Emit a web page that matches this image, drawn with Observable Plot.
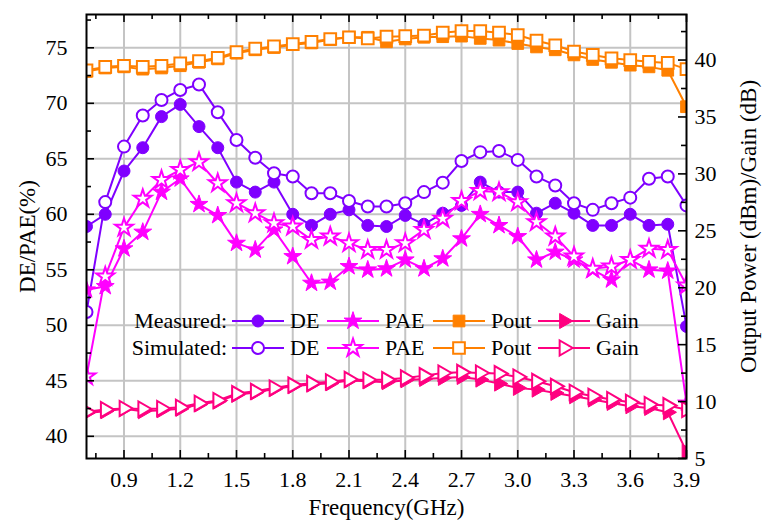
<!DOCTYPE html>
<html><head><meta charset="utf-8">
<script src="https://cdn.jsdelivr.net/npm/d3@7"></script>
<script src="https://cdn.jsdelivr.net/npm/@observablehq/plot@0.6"></script>
<style>
body{margin:0;background:#fff;}
#chart{width:764px;height:522px;}
</style></head><body><div id="chart"></div>
<script>
// Frequency (GHz)
const freq = [0.7,0.8,0.9,1.0,1.1,1.2,1.3,1.4,1.5,1.6,1.7,1.8,1.9,2.0,2.1,2.2,2.3,2.4,2.5,2.6,2.7,2.8,2.9,3.0,3.1,3.2,3.3,3.4,3.5,3.6,3.7,3.8,3.9];
// DE / PAE (%) — left axis
const deMeas  = [58.9,60.0,63.9,66.0,68.8,69.9,67.9,66.0,62.9,62.0,62.9,60.0,59.0,60.0,60.4,59.0,58.9,59.9,59.1,60.1,60.8,62.9,62.0,62.0,60.1,61.0,60.1,59.0,59.0,60.0,59.0,59.1,49.9];
const deSim   = [51.2,61.1,66.1,68.9,70.3,71.2,71.7,69.2,66.7,65.1,63.7,63.4,61.9,61.9,61.2,60.7,60.7,61.0,62.0,62.85,64.8,65.6,65.7,64.9,63.4,62.6,61.0,60.4,61.0,61.5,63.2,63.4,60.8];
const paeMeas = [53.2,53.5,56.9,58.4,62.0,63.2,60.9,59.9,57.4,56.8,58.6,56.2,53.8,53.9,55.3,55.0,55.1,55.9,55.1,56.0,57.8,60.0,59.0,58.0,55.9,56.6,55.9,55.0,54.1,55.9,55.0,54.9,43.0];
const paeSim  = [45.4,54.4,58.8,61.4,63.1,64.0,64.7,62.8,61.0,60.1,59.2,58.9,57.7,58.0,57.4,56.8,56.8,57.4,58.6,59.6,61.2,62.1,62.0,61.1,59.3,58.0,56.2,55.1,55.3,55.9,56.9,56.8,53.6];
// Output power (dBm) / Gain (dB) — right axis
const poutMeas = [39.0,39.3,39.4,39.2,39.3,39.5,39.8,40.1,40.6,40.9,41.1,41.35,41.5,41.8,42.0,42.0,41.6,41.85,42.0,42.05,42.1,41.9,41.75,41.45,41.15,40.9,40.45,40.05,39.8,39.55,39.4,39.1,35.9];
const poutSim  = [39.1,39.4,39.5,39.4,39.5,39.7,39.9,40.2,40.7,41.0,41.2,41.4,41.6,41.85,42.0,41.9,42.05,42.1,42.15,42.4,42.55,42.55,42.4,42.2,41.7,41.3,40.75,40.45,40.15,40.0,39.85,39.75,39.2];
const gainMeas = [9.0,9.15,9.36,9.15,9.24,9.36,9.74,10.0,10.6,10.8,11.1,11.35,11.5,11.6,11.86,11.78,11.7,11.87,11.99,12.08,12.16,11.93,11.58,11.2,11.05,10.76,10.47,10.18,9.88,9.59,9.44,9.06,5.6];
const gainSim  = [9.1,9.3,9.4,9.35,9.4,9.5,9.85,10.1,10.7,10.9,11.2,11.45,11.6,11.75,11.95,11.9,11.93,12.08,12.28,12.51,12.57,12.51,12.46,12.16,11.78,11.34,10.82,10.47,10.18,9.94,9.74,9.65,9.3];

// Axis ticks
const xLabels = [0.9,1.2,1.5,1.8,2.1,2.4,2.7,3.0,3.3,3.6,3.9];
const xGrid = [0.9,1.2,1.5,1.8,2.1,2.4,2.7,3.0,3.3,3.6];
const xMinor = [0.75,1.05,1.35,1.65,1.95,2.25,2.55,2.85,3.15,3.45,3.75];
const leftMajor = [40,45,50,55,60,65,70,75];
const leftMinor = [42.5,47.5,52.5,57.5,62.5,67.5,72.5,77.5];
const rightMajor = [5,10,15,20,25,30,35,40];
const rightMinor = [7.5,12.5,17.5,22.5,27.5,32.5,37.5,42.5];

const leftDomain = [38, 78];
const rightDomain = [5, 44];
const toLeft = v => leftDomain[0] + (v - rightDomain[0]) * (leftDomain[1]-leftDomain[0])/(rightDomain[1]-rightDomain[0]);
const fromLeft = v => rightDomain[0] + (v - leftDomain[0]) * (rightDomain[1]-rightDomain[0])/(leftDomain[1]-leftDomain[0]);

const cDE = "#7f00ff", cPAE = "#ff00ff", cPout = "#ff8000", cGain = "#ff0080";

const W = 764, H = 522, mL = 86, mR = 78, mT = 14, mB = 64;
const FW = W - mL - mR, FH = H - mT - mB;
const FONT = "'Liberation Serif', 'Times New Roman', serif";

const series = [
  {vals: deMeas, right:false, color:cDE, symbol:"circle", r:6, filled:true, rot:0},
  {vals: deSim, right:false, color:cDE, symbol:"circle", r:6, filled:false, rot:0},
  {vals: paeMeas, right:false, color:cPAE, symbol:"star", r:5.6, filled:true, rot:0},
  {vals: paeSim, right:false, color:cPAE, symbol:"star", r:5.6, filled:false, rot:0},
  {vals: poutMeas, right:true, color:cPout, symbol:"square", r:6.6, filled:true, rot:0},
  {vals: poutSim, right:true, color:cPout, symbol:"square", r:6.6, filled:false, rot:0},
  {vals: gainMeas, right:true, color:cGain, symbol:"triangle", r:5.6, filled:true, rot:90},
  {vals: gainSim, right:true, color:cGain, symbol:"triangle", r:5.6, filled:false, rot:90}
];

const dataMarks = [];
for (const s of series) {
  const rows = freq.map((f, i) => ({f, v: s.right ? toLeft(s.vals[i]) : s.vals[i]}));
  dataMarks.push(Plot.line(rows, {x:"f", y:"v", stroke:s.color, strokeWidth:2, clip:true}));
  dataMarks.push(Plot.dot(rows, {x:"f", y:"v", symbol:s.symbol, r:s.r, rotate:s.rot,
    fill: s.filled ? s.color : "white", stroke:s.color, strokeWidth: s.filled ? 1 : 2, clip:true}));
}

const tickStyle = {stroke:"black", strokeWidth:1.6};
const chart = Plot.plot({
  width: W, height: H,
  marginLeft: mL, marginRight: mR, marginTop: mT, marginBottom: mB,
  style: {fontFamily: FONT, fontSize: "22px", color: "black", background: "white"},
  x: {domain: [0.7, 3.9]},
  y: {domain: leftDomain},
  marks: [
    Plot.gridX(xGrid, {stroke:"#c4c4c4", strokeOpacity:1, strokeWidth:2}),
    Plot.gridY(leftMajor, {stroke:"#c4c4c4", strokeOpacity:1, strokeWidth:2}),
    ...dataMarks,
    // inward ticks
    Plot.tickX(xLabels, {x:d=>d, insetTop: FH-8, ...tickStyle}),
    Plot.tickX(xMinor, {x:d=>d, insetTop: FH-5, ...tickStyle}),
    Plot.tickX(xLabels, {x:d=>d, insetBottom: FH-8, ...tickStyle}),
    Plot.tickX(xMinor, {x:d=>d, insetBottom: FH-5, ...tickStyle}),
    Plot.tickY(leftMajor, {y:d=>d, insetRight: FW-8, ...tickStyle}),
    Plot.tickY(leftMinor, {y:d=>d, insetRight: FW-5, ...tickStyle}),
    Plot.tickY(rightMajor.map(toLeft), {y:d=>d, insetLeft: FW-8, ...tickStyle}),
    Plot.tickY(rightMinor.map(toLeft), {y:d=>d, insetLeft: FW-5, ...tickStyle}),
    Plot.axisX({ticks: xLabels, tickFormat: ".1f", tickSize: 0, tickPadding: 13, label: null, fontSize: 22}),
    Plot.axisY({anchor:"left", ticks: leftMajor, tickSize: 0, tickPadding: 19, label: null, fontSize: 22}),
    Plot.axisY({anchor:"right", ticks: rightMajor.map(toLeft), tickFormat: d => String(Math.round(fromLeft(d))), tickSize: 0, tickPadding: 8, label: null, fontSize: 22}),
    Plot.frame({stroke:"black", strokeWidth:2}),
    Plot.text(["Frequency(GHz)"], {text:d=>d, frameAnchor:"bottom", dy:49, lineAnchor:"middle", textAnchor:"middle", fontSize:23}),
    Plot.text(["DE/PAE(%)"], {text:d=>d, frameAnchor:"left", dx:-59, rotate:-90, lineAnchor:"middle", textAnchor:"middle", fontSize:23}),
    Plot.text(["Output Power (dBm)/Gain (dB)"], {text:d=>d, frameAnchor:"right", dx:62, dy:-10, rotate:-90, lineAnchor:"middle", textAnchor:"middle", fontSize:23})
  ]
});
document.getElementById("chart").appendChild(chart);

// Legend (inside plot area)
const legendRowLabels = ["Measured:", "Simulated:"];
const legendNames = ["DE", "PAE", "Pout", "Gain"];
const legendSymbols = [d3.symbolCircle, d3.symbolStar, d3.symbolSquare, d3.symbolTriangle];
const legendColors = [cDE, cPAE, cPout, cGain];
const legendR = [6, 5.6, 6.6, 5.6];
const legendRot = [0, 0, 0, 90];
const legendLineX = [232, 327, 433, 538];
const legendRowY = [321, 348];
const svg = d3.select(chart);
const lg = svg.append("g").attr("font-family", FONT).attr("font-size", 22).attr("text-anchor", "start");
legendRowLabels.forEach((lab, ri) => {
  const y = legendRowY[ri];
  lg.append("text").attr("x", 227).attr("y", y).attr("dy", "0.33em").attr("text-anchor", "end").attr("fill", "black").text(lab);
  legendNames.forEach((nm, k) => {
    const x0 = legendLineX[k];
    lg.append("line").attr("x1", x0).attr("x2", x0 + 52).attr("y1", y).attr("y2", y).attr("stroke", legendColors[k]).attr("stroke-width", 2);
    lg.append("path").attr("d", d3.symbol(legendSymbols[k], Math.PI * legendR[k] * legendR[k])())
      .attr("transform", `translate(${x0 + 26},${y}) rotate(${legendRot[k]})`)
      .attr("fill", ri === 0 ? legendColors[k] : "white").attr("stroke", legendColors[k]).attr("stroke-width", ri === 0 ? 1 : 2);
    lg.append("text").attr("x", x0 + 58).attr("y", y).attr("dy", "0.33em").attr("text-anchor", "start").attr("fill", "black").text(nm);
  });
});
</script></body></html>
